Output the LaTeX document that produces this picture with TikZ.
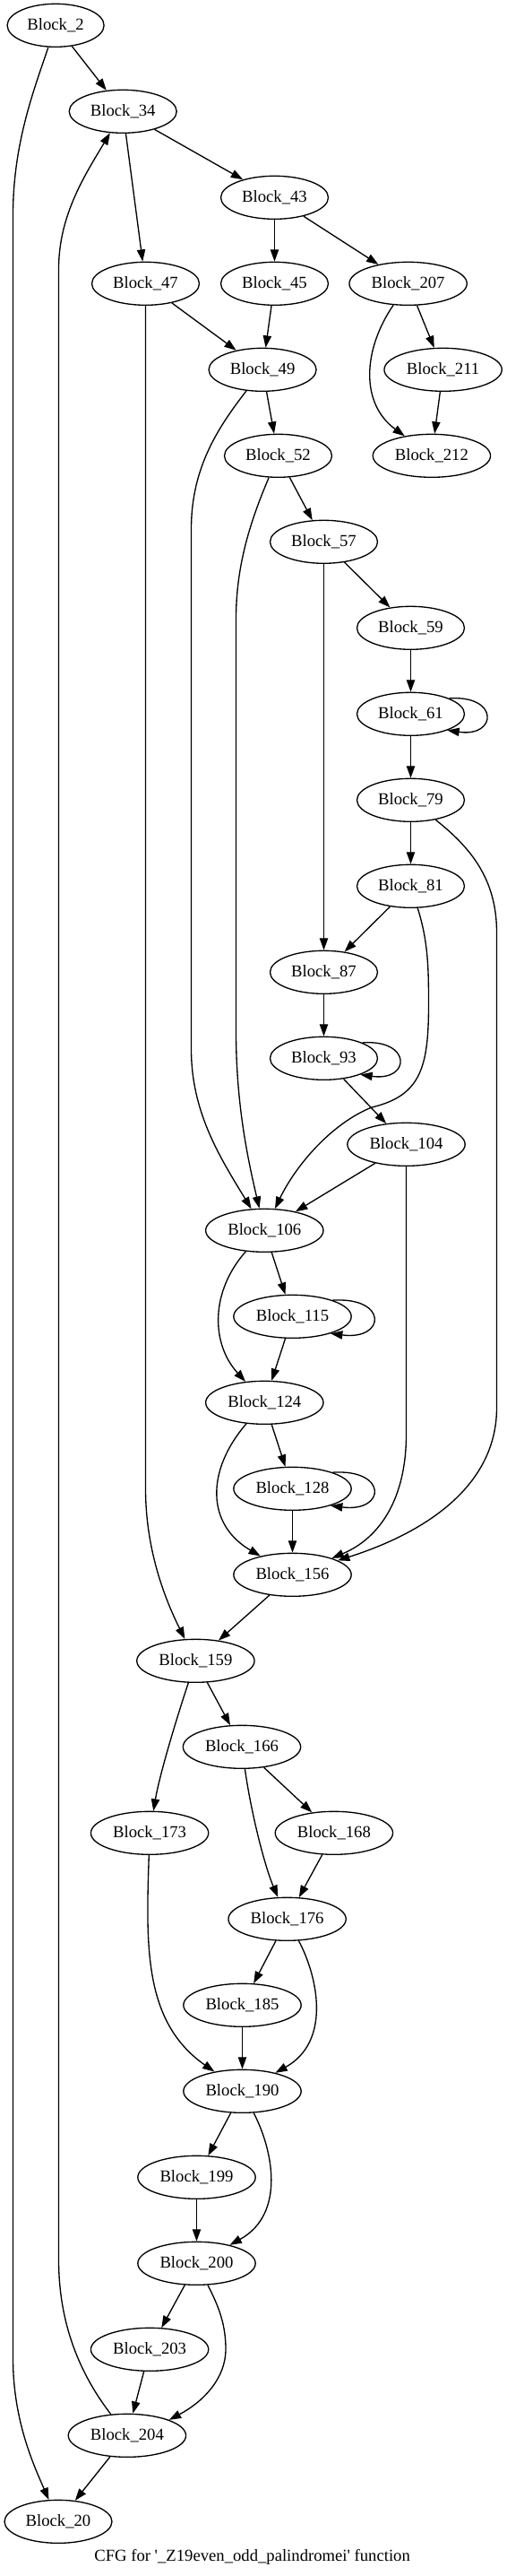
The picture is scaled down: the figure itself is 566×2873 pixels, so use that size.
\documentclass[tikz,border=0pt]{standalone}
\usepackage{fontspec}
\setmainfont{Liberation Serif}
\usepackage{tikz}
\usetikzlibrary{arrows.meta,shapes.geometric}
\tikzset{
  flow/.style={-{Triangle[length=10pt,width=7pt]},line width=1pt},
  block/.style={draw=black,ellipse,line width=1pt,inner sep=0pt,
                minimum width=90pt,minimum height=36pt,font=\fontsize{14}{16}\selectfont},
  smallblock/.style={block,minimum width=81pt},
  bigblock/.style={block,minimum width=98.5pt},
  caption/.style={font=\fontsize{14}{16}\selectfont},
}

\begin{document}
\begin{tikzpicture}[x=0.75pt,y=0.75pt]
  \path[use as bounding box] (0,0) rectangle (566,-2873);

  \node[smallblock] (b2) at (62.1,-28.3) {Block\_2};
  \node[block] (b34) at (137.2,-124.3) {Block\_34};
  \node[block] (b43) at (306.5,-220.3) {Block\_43};
  \node[block] (b47) at (162.5,-316.3) {Block\_47};
  \node[block] (b45) at (306.5,-316.3) {Block\_45};
  \node[bigblock] (b207) at (455.6,-316.3) {Block\_207};
  \node[block] (b49) at (293.1,-412.3) {Block\_49};
  \node[bigblock] (b211) at (494.6,-412.3) {Block\_211};
  \node[block] (b52) at (310.5,-508.3) {Block\_52};
  \node[bigblock] (b212) at (481.9,-508.3) {Block\_212};
  \node[block] (b57) at (361.5,-604.3) {Block\_57};
  \node[block] (b59) at (458.5,-700.3) {Block\_59};
  \node[block] (b61) at (458.5,-796.3) {Block\_61};
  \node[block] (b79) at (458.5,-892.3) {Block\_79};
  \node[block] (b81) at (458.5,-988.3) {Block\_81};
  \node[block] (b87) at (361.5,-1084.3) {Block\_87};
  \node[block] (b93) at (361.5,-1180.3) {Block\_93};
  \node[bigblock] (b104) at (453.5,-1276.3) {Block\_104};
  \node[bigblock] (b106) at (295.3,-1372.3) {Block\_106};
  \node[bigblock] (b115) at (326.5,-1468.3) {Block\_115};
  \node[bigblock] (b124) at (295.3,-1564.3) {Block\_124};
  \node[bigblock] (b128) at (326.5,-1660.3) {Block\_128};
  \node[bigblock] (b156) at (326.5,-1756.3) {Block\_156};
  \node[bigblock] (b159) at (218.4,-1852.3) {Block\_159};
  \node[bigblock] (b166) at (270,-1948.3) {Block\_166};
  \node[bigblock] (b173) at (167.1,-2044.3) {Block\_173};
  \node[bigblock] (b168) at (372.9,-2044.3) {Block\_168};
  \node[bigblock] (b176) at (320.6,-2140.3) {Block\_176};
  \node[bigblock] (b185) at (270.5,-2236.3) {Block\_185};
  \node[bigblock] (b190) at (270.5,-2332.3) {Block\_190};
  \node[bigblock] (b199) at (219.5,-2428.3) {Block\_199};
  \node[bigblock] (b200) at (219.5,-2524.3) {Block\_200};
  \node[bigblock] (b203) at (167.1,-2620.3) {Block\_203};
  \node[bigblock] (b204) at (141.9,-2716.3) {Block\_204};
  \node[block] (b20) at (65,-2812.3) {Block\_20};

  \node[caption] (cap) at (281.6,-2852)
    {CFG for \textquotesingle\_Z19even\_odd\_palindromei\textquotesingle{} function};

  % straight edges
  \draw[flow] (b2) -- (b34);
  \draw[flow] (b34) -- (b43);
  \draw[flow] (b34) -- (b47);
  \draw[flow] (b43) -- (b45);
  \draw[flow] (b43) -- (b207);
  \draw[flow] (b47) -- (b49);
  \draw[flow] (b45) -- (b49);
  \draw[flow] (b207) -- (b211);
  \draw[flow] (b211) -- (b212);
  \draw[flow] (b49) -- (b52);
  \draw[flow] (b52) -- (b57);
  \draw[flow] (b57) -- (b59);
  \draw[flow] (b57) -- (b87);
  \draw[flow] (b59) -- (b61);
  \draw[flow] (b61) -- (b79);
  \draw[flow] (b79) -- (b81);
  \draw[flow] (b81) -- (b87);
  \draw[flow] (b87) -- (b93);
  \draw[flow] (b93) -- (b104);
  \draw[flow] (b104) -- (b106);
  \draw[flow] (b106) -- (b115);
  \draw[flow] (b115) -- (b124);
  \draw[flow] (b124) -- (b128);
  \draw[flow] (b128) -- (b156);
  \draw[flow] (b156) -- (b159);
  \draw[flow] (b159) -- (b166);
  \draw[flow] (b166) -- (b168);
  \draw[flow] (b168) -- (b176);
  \draw[flow] (b176) -- (b185);
  \draw[flow] (b185) -- (b190);
  \draw[flow] (b190) -- (b199);
  \draw[flow] (b199) -- (b200);
  \draw[flow] (b200) -- (b203);
  \draw[flow] (b203) -- (b204);
  \draw[flow] (b204) -- (b20);

  % self loops
  \draw[flow] (b61.22) .. controls +(56,4) and +(56,-8) .. (b61.-24);
  \draw[flow] (b93.22) .. controls +(56,4) and +(56,-8) .. (b93.-24);
  \draw[flow] (b115.22) .. controls +(62,4) and +(62,-8) .. (b115.-24);
  \draw[flow] (b128.22) .. controls +(62,4) and +(62,-8) .. (b128.-24);

  % curved and long edges
  \draw[flow] (b2) .. controls (38,-100) and (14.5,-160) .. (14.5,-240)
    -- (14.5,-2630) .. controls (14.5,-2700) and (38,-2750) .. (b20);
  \draw[flow] (b204) .. controls (95,-2655) and (65.5,-2600) .. (65.5,-2520)
    -- (65.5,-300) .. controls (65.5,-240) and (95,-195) .. (b34);
  \draw[flow] (b207) .. controls (405,-390) and (402,-450) .. (b212);
  \draw[flow] (b47) -- (162.5,-1660) .. controls (162.5,-1730) and (185,-1785) .. (b159);
  \draw[flow] (b49) .. controls (245,-475) and (213.5,-520) .. (213.5,-590)
    -- (213.5,-1170) .. controls (213.5,-1240) and (245,-1290) .. (b106);
  \draw[flow] (b52) .. controls (280,-580) and (263.5,-630) .. (263.5,-690)
    -- (263.5,-1150) .. controls (263.5,-1230) and (276,-1290) .. (b106);
  \draw[flow] (b79) .. controls (525,-945) and (554.5,-980) .. (554.5,-1040)
    -- (554.5,-1570) .. controls (554.5,-1660) and (470,-1711) .. (b156);
  \draw[flow] (b81) .. controls (478,-1050) and (478.5,-1080) .. (478.5,-1120)
    .. controls (478.5,-1190) and (470,-1222) .. (415,-1235)
    .. controls (370,-1253) and (330,-1300) .. (b106);
  \draw[flow] (b104) -- (453.5,-1600) .. controls (453.5,-1670) and (425,-1715) .. (b156);
  \draw[flow] (b106) .. controls (235,-1440) and (235,-1498) .. (b124);
  \draw[flow] (b124) .. controls (230,-1640) and (230,-1700) .. (b156);
  \draw[flow] (b159) .. controls (196,-1920) and (178,-1980) .. (b173);
  \draw[flow] (b166) .. controls (280,-2020) and (295,-2080) .. (b176);
  \draw[flow] (b173) .. controls (163,-2170) and (160,-2255) .. (b190);
  \draw[flow] (b176) .. controls (355,-2205) and (370,-2277) .. (b190);
  \draw[flow] (b190) .. controls (304.4,-2397) and (319.5,-2469) .. (b200);
  \draw[flow] (b200) .. controls (244,-2572) and (252,-2592) .. (252,-2620)
    .. controls (252,-2652) and (228,-2678) .. (b204.north east);
\end{tikzpicture}
\end{document}
